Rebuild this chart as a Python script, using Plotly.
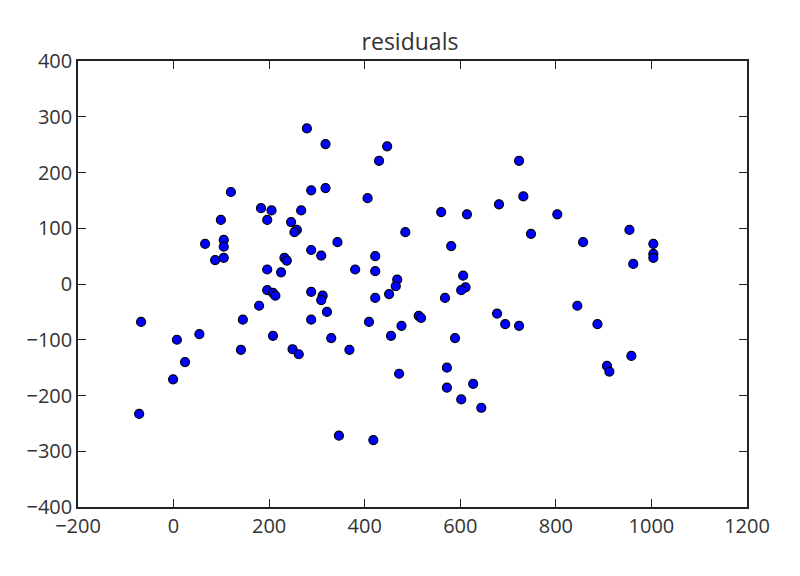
import plotly.graph_objects as go

# residual scatter, values
x_vals = [279, 318, 447, 430, 723, 120, 288, 318, 406, 732,
          681, 183, 205, 267, 560, 614, 803, 99, 196, 246,
          258, 253, 954, 485, 748, 66, 105, 105, 343, 581,
          857, 1004, 288, 309, 1004, 1004, 87, 105, 232, 237,
          422, 962, 196, 225, 380, 422, 606, 468, 465, 451,
          422, 611, 602, 568, 196, 208, 213, 179, 288, 312,
          309, 321, 288, -68, 145, 409, 477, 513, 518, 677,
          694, 723, 845, 887, 54, 7, 208, 330, 455, 589,
          141, 249, 262, 368, 958, 24, 907, 912, 472, 572,
          572, 627, 602, 644, -1, -72, 346, 418]
y_vals = [279, 251, 247, 221, 221, 165, 168, 172, 154, 157,
          143, 136, 132, 132, 129, 125, 125, 115, 115, 111,
          97, 93, 97, 93, 90, 72, 79, 67, 75, 68,
          75, 72, 61, 51, 54, 47, 43, 47, 47, 42,
          50, 36, 26, 21, 26, 23, 15, 8, -4, -18,
          -25, -6, -11, -25, -11, -16, -21, -39, -14, -21,
          -29, -50, -64, -68, -64, -68, -75, -57, -61, -53,
          -72, -75, -39, -72, -90, -100, -93, -97, -93, -97,
          -118, -117, -126, -118, -129, -140, -147, -157, -161, -150,
          -186, -179, -207, -222, -171, -233, -272, -280]

x_ticks = [-200, 0, 200, 400, 600, 800, 1000, 1200]
y_ticks = [-400, -300, -200, -100, 0, 100, 200, 300, 400]

fig = go.Figure(go.Scatter(
    x=x_vals, y=y_vals, mode="markers",
    marker=dict(size=9, color="#0000ff", line=dict(color="black", width=1.2)),
    showlegend=False))

axis_style = dict(showgrid=False, zeroline=False, showline=True, mirror="allticks",
                  linecolor="#222", linewidth=1.5, ticks="inside", ticklen=8,
                  tickwidth=1, tickcolor="#222",
                  tickfont=dict(family="Open Sans", size=20, color="#333"))

# page body has an 8px offset, margins compensate for it
fig.update_layout(
    width=800, height=576,
    paper_bgcolor="white", plot_bgcolor="white",
    margin=dict(l=70, r=61, t=53, b=77),
    title=dict(text="residuals", x=0.5025, xanchor="center", y=0.941, yanchor="middle",
               font=dict(family="Open Sans", size=23, color="#333")),
    xaxis=dict(range=[-200, 1200], tickvals=x_ticks, **axis_style),
    yaxis=dict(range=[-400, 400], tickvals=y_ticks, **axis_style))

fig.write_html("out.html")
